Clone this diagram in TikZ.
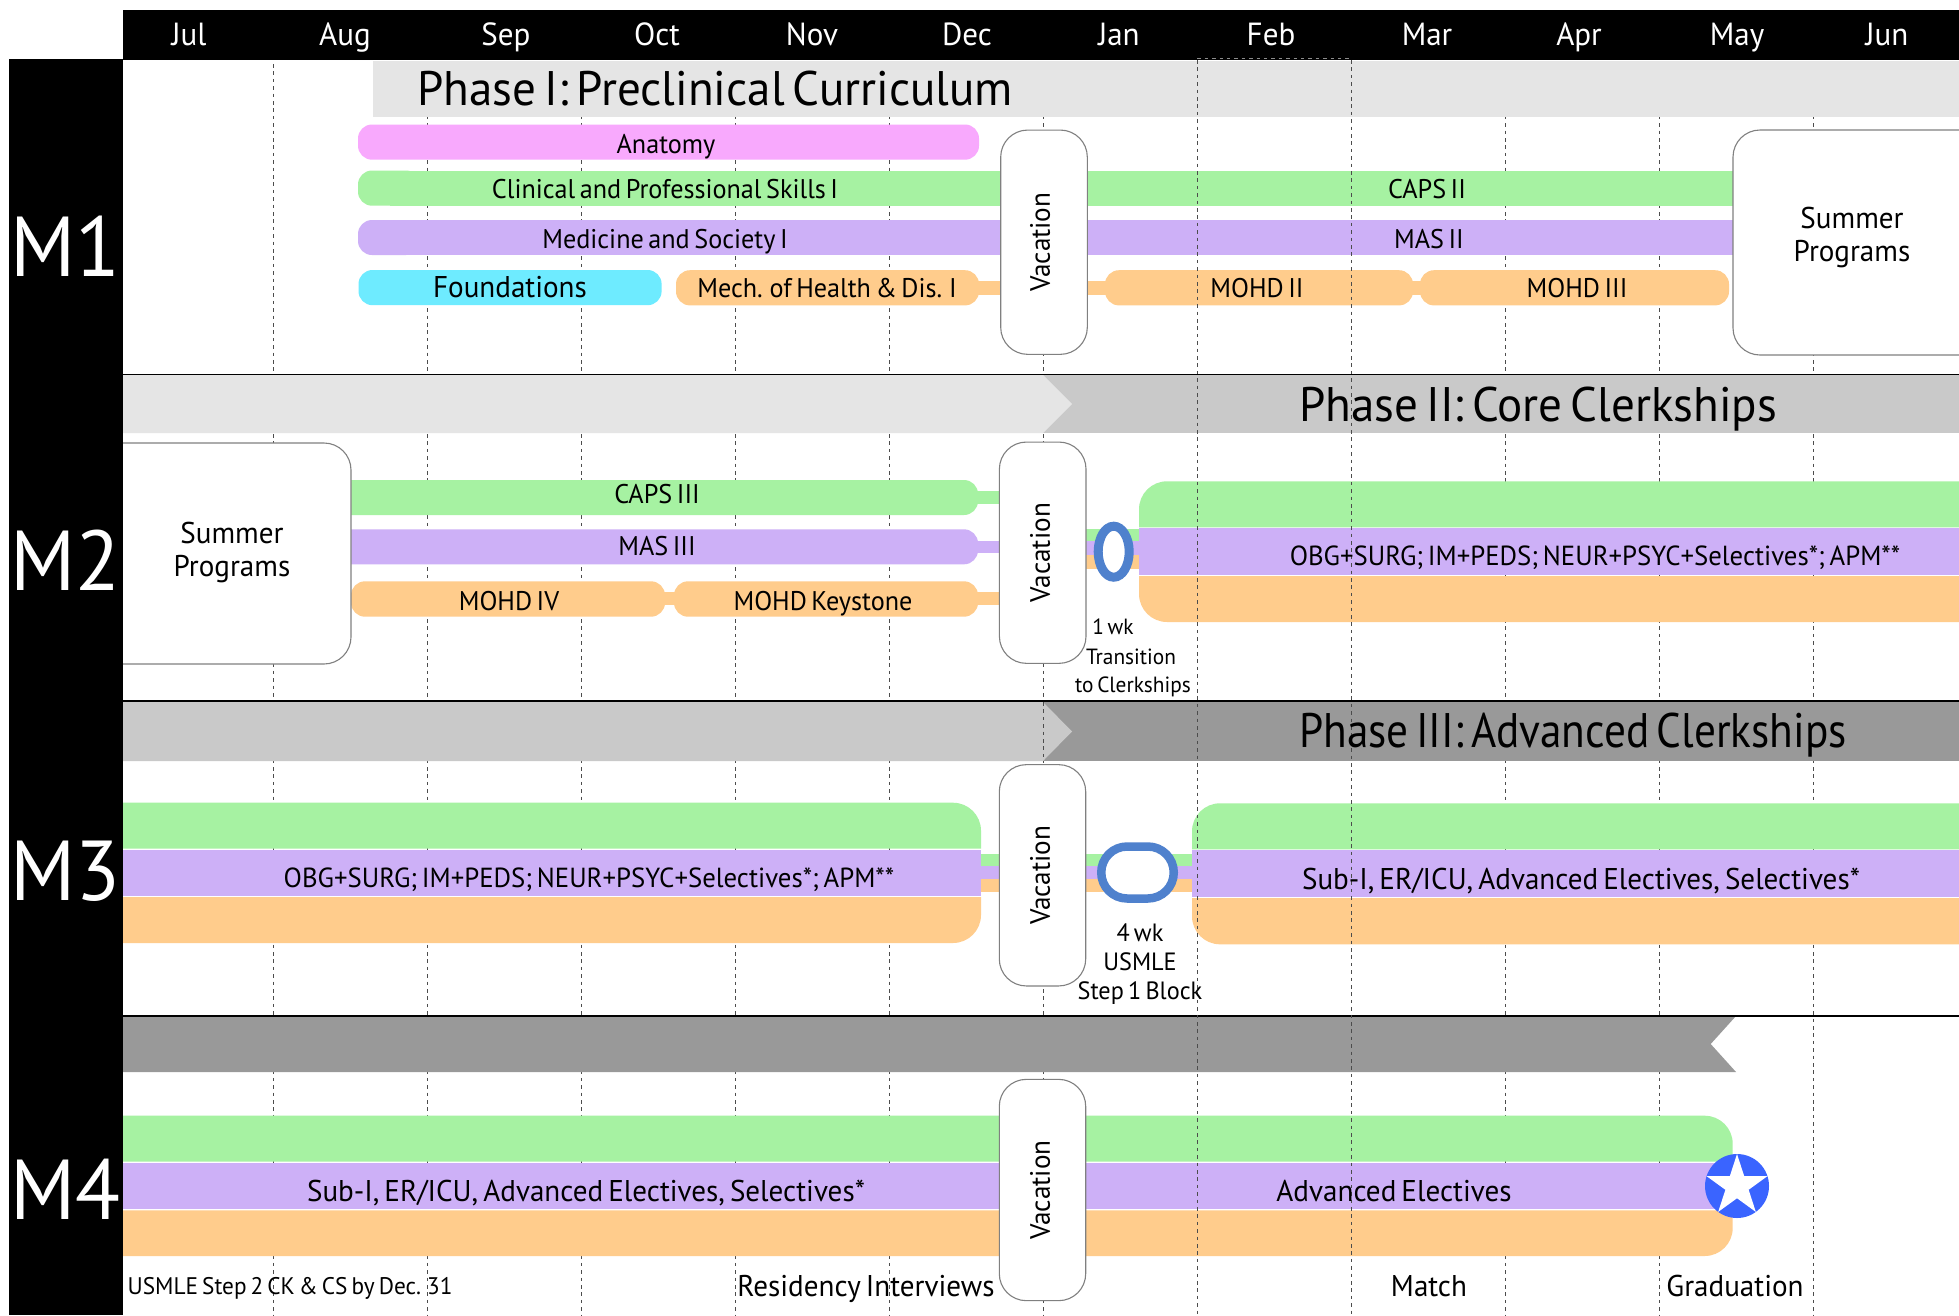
\documentclass[tikz,border=0pt]{standalone}
\usepackage{fontspec}
\setmainfont[FakeStretch=0.97,WordSpace=0.65]{PT Sans}
\usetikzlibrary{shapes.geometric}
\definecolor{cgreen}{HTML}{A6F2A2}
\definecolor{cpurple}{HTML}{CDB0F7}
\definecolor{corange}{HTML}{FFCC8C}
\definecolor{cpink}{HTML}{F8A9FD}
\definecolor{ccyan}{HTML}{6EEBFF}
\definecolor{cring}{HTML}{4F81CD}
\definecolor{cstar}{HTML}{3A64FF}
\definecolor{ph1}{HTML}{E5E5E5}
\definecolor{ph2}{HTML}{C9C9C9}
\definecolor{ph3}{HTML}{999999}
\newcommand{\fs}[1]{\fontsize{#1}{#1}\selectfont}
\tikzset{
  gridline/.style={draw=black!70,line width=1.1pt,dash pattern=on 3.5pt off 3.9pt},
  sepline/.style={draw=black,line width=1.6pt},
  fsz/.style={font=\fs{#1},text height=#1*0.7pt,text depth=#1*0.02pt,inner sep=0pt,text=black},
  bartext/.style={fsz=27},
  longtext/.style={fsz=27.6},
  bigbartext/.style={fsz=30},
  phasetext/.style={fsz=48.5,anchor=west},
  monthtext/.style={fsz=32,text=white},
  yeartext/.style={fsz=85,text=white,anchor=west},
  notetext/.style={fsz=22},
  midtext/.style={fsz=25},
  steptext/.style={fsz=24},
  vacbox/.style={draw=black!50,line width=1.1pt,fill=white,rounded corners=27pt,inner sep=0pt,font=\fs{28}},
  sumbox/.style={draw=black!50,line width=1.1pt,fill=white,rounded corners=27pt,inner sep=0pt},
  sumtext/.style={font=\fs{30},text=black,inner sep=0pt,align=center},
  pill/.style={rounded corners=14pt},
}
\newcommand{\tripleblock}[8]{%
  \fill[cgreen] (#1,#4) [rounded corners=#7pt] -- (#1,#3) [rounded corners=#8pt] -- (#2,#3) [sharp corners] -- (#2,#4) -- cycle;
  \fill[cpurple] (#1,#4+1) rectangle (#2,#5);
  \fill[corange] (#1,#5+1) [rounded corners=#7pt] -- (#1,#6) [rounded corners=#8pt] -- (#2,#6) [sharp corners] -- (#2,#5+1) -- cycle;
}
\begin{document}
\begin{tikzpicture}[x=1pt,y=-1pt]
\useasboundingbox (0,0) rectangle (1959,1315);
\clip (0,0) rectangle (1959,1315);
\fill[white] (0,0) rectangle (1959,1315);
% back grid lines
\foreach \gx in {273.3,427.3,581.3,735.3,889.3,1043.3,1505.3,1659.3,1813.3}{
  \draw[gridline] (\gx,64) -- (\gx,1315);
}
% phase bands
\fill[ph1] (373,61) rectangle (1959,117);
\fill[ph2] (1040,375) rectangle (1959,433);
\fill[ph1] (123,375) -- (1043,375) -- (1072,404) -- (1043,433) -- (123,433) -- cycle;
\fill[ph3] (1040,702) rectangle (1959,761);
\fill[ph2] (123,702) -- (1043,702) -- (1072,731.5) -- (1043,761) -- (123,761) -- cycle;
\fill[ph3] (123,1016) -- (1736,1016) -- (1710.7,1044) -- (1736,1072) -- (123,1072) -- cycle;
% separators
\draw[sepline] (123,374.5) -- (1959,374.5);
\draw[sepline] (123,701) -- (1959,701);
\draw[sepline] (123,1016) -- (1959,1016);
% M1 bars
\fill[cpink,pill] (358,124.5) rectangle (979,159.7);
\fill[cgreen,pill] (358,170.5) rectangle (420,205.7);
\fill[cgreen] (390,170.5) rectangle (1735,205.7);
\fill[cpurple,pill] (358,220) rectangle (420,255);
\fill[cpurple] (390,220) rectangle (1735,255);
\fill[ccyan,pill] (358.5,270) rectangle (661.6,305.2);
\fill[corange] (960,281) rectangle (1120,294.7);
\fill[corange] (1400,281) rectangle (1440,294.7);
\fill[corange,pill] (676,270.2) rectangle (979,305.4);
\fill[corange,pill] (1105,270.2) rectangle (1413,305.4);
\fill[corange,pill] (1420,270.2) rectangle (1729,305.4);
% M2 bars
\fill[cgreen] (960,490.7) rectangle (1010,504);
\fill[cpurple] (960,540.7) rectangle (1010,553.3);
\fill[corange] (960,592) rectangle (1010,605);
\fill[corange] (650,592) rectangle (690,605);
\fill[cgreen,pill] (300,480) rectangle (978,515);
\fill[cpurple,pill] (300,529.3) rectangle (978,564.3);
\fill[corange,pill] (351,581.3) rectangle (665,616.7);
\fill[corange,pill] (674,581.3) rectangle (978,616.7);
\fill[cgreen] (1080,529) rectangle (1145,541);
\fill[cpurple] (1080,541) rectangle (1145,555);
\fill[corange] (1080,555) rectangle (1140.5,569);
\tripleblock{1139}{1965}{481.3}{527.3}{575}{622}{28}{0.01}
% M3 bars
\fill[cgreen] (975,853.7) rectangle (1195,865.7);
\fill[cpurple] (975,865.7) rectangle (1195,879);
\fill[corange] (975,879) rectangle (1195,892);
\tripleblock{115}{981}{802.7}{848.7}{896}{943}{0.01}{28}
\tripleblock{1192}{1965}{803.3}{849.3}{897}{944.3}{28}{0.01}
% M4 bars
\tripleblock{115}{1732.7}{1115.7}{1161.7}{1209.3}{1256}{0.01}{28}
% vacation boxes and summer boxes
\node[vacbox,minimum width=86.6pt,minimum height=224.3pt] (vac1) at (1044,242.2) {\rotatebox{90}{Vacation}\kern8pt};
\node[vacbox,minimum width=86.6pt,minimum height=221.3pt] (vac2) at (1042.7,552.7) {\rotatebox{90}{Vacation}\kern5pt};
\node[vacbox,minimum width=86.4pt,minimum height=221.3pt] (vac3) at (1042.5,875.3) {\rotatebox{90}{Vacation}\kern5pt};
\node[vacbox,minimum width=86.4pt,minimum height=221.3pt] (vac4) at (1042.5,1190) {\rotatebox{90}{Vacation}\kern5pt};
\draw[sumbox] (1733,130) rectangle (2020,355);
\draw[sumbox] (60,443) rectangle (351,664);
% milestone rings
\node[draw=cring,line width=9pt,fill=white,ellipse,minimum width=31pt,minimum height=51pt,inner sep=0pt] (ring1) at (1113.7,551.7) {};
\node[draw=cring,line width=8.5pt,fill=white,rounded corners=25.9pt,minimum width=72.5pt,minimum height=52pt,inner sep=0pt] (ring2) at (1137.5,872.5) {};
% star
\node[fill=cstar,circle,minimum size=64pt,inner sep=0pt] (gradcircle) at (1737,1186) {};
\node[fill=white,star,star points=5,star point ratio=2.618,minimum size=64pt,inner sep=0pt] (gradstar) at (1737,1186) {};
% front grid lines
\foreach \gx in {1197.3,1351.3}{
  \draw[gridline] (\gx,60) -- (\gx,1315);
}
\draw[gridline] (1043.3,702) -- (1043.3,761);
% header and year column
\fill[black] (123,10) rectangle (1959,60);
\fill[black] (9,59) rectangle (123,1315);
\draw[gridline,line width=.8pt,draw=black!45] (1197.3,58) -- (1351.3,58);
% months
\foreach \mx/\mn in {189/Jul,345/Aug,506/Sep,657/Oct,812/Nov,967/Dec,1119/Jan,1271/Feb,1427/Mar,1579/Apr,1737/May,1887/Jun}{
  \node[monthtext] (m\mn) at (\mx,35) {\mn};
}
% year labels
\node[yeartext] (y1) at (10,248) {M1};
\node[yeartext] (y2) at (10,562) {M2};
\node[yeartext] (y3) at (10,872) {M3};
\node[yeartext] (y4) at (10,1191) {M4};
% phase titles
\node[phasetext] (p1) at (417,89) {Phase I: Preclinical Curriculum};
\node[phasetext] (p2) at (1299,405) {Phase II: Core Clerkships};
\node[phasetext] (p3) at (1299,731) {\scalebox{0.92}[1]{Phase III: Advanced Clerkships}};
% M1 text
\node[bartext] (t1) at (666,144) {Anatomy};
\node[bartext] (t2) at (665,189) {Clinical and Professional Skills I};
\node[bartext] (t3) at (665,239) {Medicine and Society I};
\node[bigbartext] (t4) at (510,287) {Foundations};
\node[bartext] (t5) at (827,288) {Mech. of Health \& Dis. I};
\node[bartext] (t6) at (1427,189) {CAPS II};
\node[bartext] (t7) at (1429,239) {MAS II};
\node[bartext] (t8) at (1257,288) {MOHD II};
\node[bartext] (t9) at (1577,288) {MOHD III};
\node[sumtext] (s1) at (1852,237) {Summer\\[3pt]Programs};
% M2 text
\node[bartext] (t10) at (657,494) {CAPS III};
\node[bartext] (t11) at (657,546) {MAS III};
\node[bartext] (t12) at (509,601) {MOHD IV};
\node[bartext] (t13) at (823,601) {MOHD Keystone};
\node[sumtext] (s2) at (232,552) {Summer\\[3pt]Programs};
\node[longtext] (t14) at (1595,556) {OBG+SURG; IM+PEDS; NEUR+PSYC+Selectives*; APM**};
\node[notetext] (n1) at (1113,627) {1 wk};
\node[notetext] (n2) at (1131,657) {Transition};
\node[notetext] (n3) at (1133,685) {to Clerkships};
% M3 text
\node[longtext] (t15) at (589,878) {OBG+SURG; IM+PEDS; NEUR+PSYC+Selectives*; APM**};
\node[bigbartext] (t16) at (1581,879) {Sub-I, ER/ICU, Advanced Electives, Selectives*};
\node[midtext] (n4) at (1140,933) {4 wk};
\node[midtext] (n5) at (1140,962) {USMLE};
\node[midtext] (n6) at (1140,991) {Step 1 Block};
% M4 text
\node[bigbartext] (t17) at (586,1191) {Sub-I, ER/ICU, Advanced Electives, Selectives*};
\node[bigbartext] (t18) at (1394,1191) {Advanced Electives};
\node[steptext,anchor=west] (b1) at (127.5,1286) {USMLE Step 2 CK \& CS by Dec. 31};
\node[bigbartext] (b2) at (866,1286) {Residency Interviews};
\node[bigbartext] (b3) at (1429,1286) {Match};
\node[bigbartext] (b4) at (1735,1286) {Graduation};
\end{tikzpicture}
\end{document}
